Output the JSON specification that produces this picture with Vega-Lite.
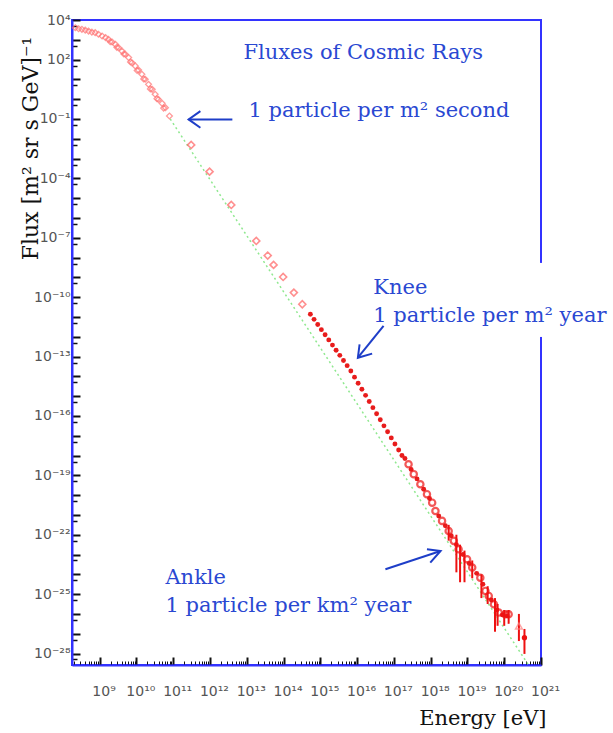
{
  "$schema": "https://vega.github.io/schema/vega-lite/v6.json",
  "width": 469,
  "height": 645,
  "autosize": {"type": "none"},
  "padding": {"left": 72, "top": 20, "right": 72, "bottom": 68},
  "background": "white",
  "config": {"view": {"stroke": "#3333ff", "strokeWidth": 2}},
  "datasets": {
    "pts": [
      {"E": 2.19e8, "F": 4.07e3, "set": "low"},
      {"E": 2.69e8, "F": 3.63e3, "set": "low"},
      {"E": 3.31e8, "F": 3.39e3, "set": "low"},
      {"E": 4.07e8, "F": 3.09e3, "set": "low"},
      {"E": 5.01e8, "F": 2.75e3, "set": "low"},
      {"E": 6.17e8, "F": 2.45e3, "set": "low"},
      {"E": 7.59e8, "F": 2.29e3, "set": "low"},
      {"E": 9.33e8, "F": 1.91e3, "set": "low"},
      {"E": 1.17e9, "F": 1.55e3, "set": "low"},
      {"E": 1.45e9, "F": 1.29e3, "set": "low"},
      {"E": 1.74e9, "F": 1.07e3, "set": "low"},
      {"E": 2.19e9, "F": 7.76e2, "set": "low"},
      {"E": 2.69e9, "F": 5.89e2, "set": "low"},
      {"E": 3.31e9, "F": 3.98e2, "set": "low"},
      {"E": 4.07e9, "F": 2.69e2, "set": "low"},
      {"E": 5.01e9, "F": 1.86e2, "set": "low"},
      {"E": 6.17e9, "F": 1.26e2, "set": "low"},
      {"E": 7.59e9, "F": 6.92e1, "set": "low"},
      {"E": 9.33e9, "F": 4.79e1, "set": "low"},
      {"E": 1.15e10, "F": 2.95e1, "set": "low"},
      {"E": 1.41e10, "F": 1.82e1, "set": "low"},
      {"E": 1.74e10, "F": 1.02e1, "set": "low"},
      {"E": 2.14e10, "F": 5.62, "set": "low"},
      {"E": 2.69e10, "F": 3.16, "set": "low"},
      {"E": 3.24e10, "F": 1.78, "set": "low"},
      {"E": 3.98e10, "F": 0.977, "set": "low"},
      {"E": 5.01e10, "F": 0.617, "set": "low"},
      {"E": 6.17e10, "F": 0.372, "set": "low"},
      {"E": 7.94e10, "F": 0.141, "set": "low"},
      {"E": 1.95e9, "F": 7.94e2, "set": "low"},
      {"E": 2.95e9, "F": 4.17e2, "set": "low"},
      {"E": 4.57e9, "F": 1.91e2, "set": "low"},
      {"E": 6.92e9, "F": 7.59e1, "set": "low"},
      {"E": 1.05e10, "F": 2.82e1, "set": "low"},
      {"E": 1.58e10, "F": 1.05e1, "set": "low"},
      {"E": 2.40e10, "F": 3.31, "set": "low"},
      {"E": 3.63e10, "F": 1.05, "set": "low"},
      {"E": 5.50e10, "F": 0.355, "set": "low"},
      {"E": 3.09e11, "F": 4.90e-3, "set": "mid"},
      {"E": 9.77e11, "F": 2.19e-4, "set": "mid"},
      {"E": 3.80e12, "F": 4.57e-6, "set": "mid"},
      {"E": 1.82e13, "F": 6.92e-8, "set": "mid"},
      {"E": 3.72e13, "F": 1.26e-8, "set": "mid"},
      {"E": 5.37e13, "F": 4.27e-9, "set": "mid"},
      {"E": 9.77e13, "F": 1.05e-9, "set": "mid"},
      {"E": 1.91e14, "F": 1.70e-10, "set": "mid"},
      {"E": 3.24e14, "F": 4.37e-11, "set": "mid"},
      {"E": 5.37e14, "F": 1.38e-11, "set": "knee"},
      {"E": 6.76e14, "F": 7.59e-12, "set": "knee"},
      {"E": 8.51e14, "F": 4.17e-12, "set": "knee"},
      {"E": 1.07e15, "F": 2.29e-12, "set": "knee"},
      {"E": 1.35e15, "F": 1.26e-12, "set": "knee"},
      {"E": 1.70e15, "F": 6.92e-13, "set": "knee"},
      {"E": 2.14e15, "F": 3.80e-13, "set": "knee"},
      {"E": 2.69e15, "F": 2.09e-13, "set": "knee"},
      {"E": 3.39e15, "F": 1.15e-13, "set": "knee"},
      {"E": 4.27e15, "F": 6.31e-14, "set": "knee"},
      {"E": 5.37e15, "F": 3.47e-14, "set": "knee"},
      {"E": 6.76e15, "F": 1.86e-14, "set": "knee"},
      {"E": 8.51e15, "F": 9.12e-15, "set": "knee"},
      {"E": 1.07e16, "F": 4.47e-15, "set": "knee"},
      {"E": 1.35e16, "F": 2.24e-15, "set": "knee"},
      {"E": 1.70e16, "F": 1.10e-15, "set": "knee"},
      {"E": 2.14e16, "F": 5.37e-16, "set": "knee"},
      {"E": 2.69e16, "F": 2.63e-16, "set": "knee"},
      {"E": 3.39e16, "F": 1.29e-16, "set": "knee"},
      {"E": 4.27e16, "F": 6.46e-17, "set": "knee"},
      {"E": 5.37e16, "F": 3.16e-17, "set": "knee"},
      {"E": 6.76e16, "F": 1.58e-17, "set": "knee"},
      {"E": 8.51e16, "F": 7.76e-18, "set": "knee"},
      {"E": 1.07e17, "F": 3.80e-18, "set": "knee"},
      {"E": 1.35e17, "F": 1.91e-18, "set": "knee"},
      {"E": 1.66e17, "F": 1.00e-18, "set": "knee"},
      {"E": 2.00e17, "F": 7.08e-19, "set": "high2"},
      {"E": 2.95e17, "F": 2.00e-19, "set": "high2"},
      {"E": 4.27e17, "F": 6.61e-20, "set": "high2"},
      {"E": 6.46e17, "F": 2.00e-20, "set": "high2"},
      {"E": 9.33e17, "F": 6.76e-21, "set": "high2"},
      {"E": 1.66e18, "F": 8.91e-22, "set": "high2"},
      {"E": 2.51e18, "F": 2.82e-22, "set": "high2"},
      {"E": 3.63e18, "F": 8.91e-23, "set": "high2"},
      {"E": 5.01e18, "F": 3.16e-23, "set": "high2"},
      {"E": 7.59e18, "F": 1.00e-23, "set": "high2"},
      {"E": 1.12e19, "F": 3.55e-24, "set": "high2"},
      {"E": 1.78e19, "F": 1.12e-24, "set": "high2"},
      {"E": 2.63e19, "F": 3.16e-25, "set": "high2"},
      {"E": 4.47e19, "F": 5.01e-26, "set": "high2"},
      {"E": 6.31e19, "F": 1.58e-26, "set": "high2"},
      {"E": 8.91e19, "F": 8.91e-27, "set": "high2"},
      {"E": 1.20e20, "F": 7.94e-27, "set": "high2"},
      {"E": 2.51e17, "F": 3.63e-19, "set": "high"},
      {"E": 3.47e17, "F": 1.15e-19, "set": "high"},
      {"E": 5.25e17, "F": 3.55e-20, "set": "high"},
      {"E": 7.94e17, "F": 1.12e-20, "set": "high"},
      {"E": 1.10e18, "F": 4.17e-21, "set": "high"},
      {"E": 1.35e18, "F": 1.58e-21, "set": "high"},
      {"E": 2.04e18, "F": 5.01e-22, "set": "high"},
      {"E": 3.09e18, "F": 1.55e-22, "set": "high"},
      {"E": 4.27e18, "F": 4.90e-23, "set": "high"},
      {"E": 5.75e18, "F": 1.86e-23, "set": "high"},
      {"E": 9.77e18, "F": 5.75e-24, "set": "high"},
      {"E": 1.35e19, "F": 2.19e-24, "set": "high"},
      {"E": 2.24e19, "F": 6.76e-25, "set": "high"},
      {"E": 3.09e19, "F": 1.45e-25, "set": "high"},
      {"E": 3.80e19, "F": 8.13e-26, "set": "high"},
      {"E": 5.25e19, "F": 3.09e-26, "set": "high"},
      {"E": 7.08e19, "F": 1.17e-26, "set": "high"},
      {"E": 1.07e20, "F": 9.55e-27, "set": "high"},
      {"E": 1.32e20, "F": 9.55e-27, "set": "high"},
      {"E": 2.51e20, "F": 2.45e-27, "set": "tri"},
      {"E": 3.55e20, "F": 6.31e-28, "set": "last"}
    ],
    "err": [
      {"E": 3.09e18, "F": 5.01e-23, "F2": 3.16e-22},
      {"E": 5.01e18, "F": 1.26e-24, "F2": 1.00e-22},
      {"E": 6.31e18, "F": 3.98e-25, "F2": 3.16e-23},
      {"E": 8.32e18, "F": 3.98e-25, "F2": 1.58e-23},
      {"E": 1.35e19, "F": 6.31e-25, "F2": 5.01e-24},
      {"E": 2.40e19, "F": 6.31e-26, "F2": 1.00e-24},
      {"E": 3.55e19, "F": 3.16e-26, "F2": 2.51e-25},
      {"E": 5.62e19, "F": 1.26e-27, "F2": 6.31e-26},
      {"E": 6.61e19, "F": 2.51e-27, "F2": 3.16e-26},
      {"E": 1.00e20, "F": 2.51e-27, "F2": 1.58e-26},
      {"E": 1.32e20, "F": 3.16e-27, "F2": 1.58e-26},
      {"E": 2.51e20, "F": 4.27e-28, "F2": 1.00e-26},
      {"E": 3.55e20, "F": 9.55e-29, "F2": 1.74e-27}
    ],
    "green": [
      {"E": 8.32e10, "F": 0.1},
      {"E": 4.57e20, "F": 2.63e-29}
    ],
    "mask": [
      {"E": 7.94e20, "E2": 1.41e21, "F": 5.37e-9, "F2": 9.77e-13}
    ],
    "arrows": [
      {"part": "a1s", "ord": 1, "E": 4.07e12, "F": 0.0955},
      {"part": "a1s", "ord": 2, "E": 2.63e11, "F": 0.0955},
      {"part": "a1h", "ord": 1, "E": 5.50e11, "F": 0.251},
      {"part": "a1h", "ord": 2, "E": 2.63e11, "F": 0.0955},
      {"part": "a1h", "ord": 3, "E": 5.50e11, "F": 0.0363},
      {"part": "a2s", "ord": 1, "E": 5.25e16, "F": 3.55e-12},
      {"part": "a2s", "ord": 2, "E": 1.05e16, "F": 8.71e-14},
      {"part": "a2h", "ord": 1, "E": 1.17e16, "F": 4.17e-13},
      {"part": "a2h", "ord": 2, "E": 1.05e16, "F": 8.71e-14},
      {"part": "a2h", "ord": 3, "E": 2.57e16, "F": 1.41e-13},
      {"part": "a3s", "ord": 1, "E": 5.89e16, "F": 1.82e-24},
      {"part": "a3s", "ord": 2, "E": 1.86e18, "F": 1.51e-23},
      {"part": "a3h", "ord": 1, "E": 7.94e17, "F": 1.86e-23},
      {"part": "a3h", "ord": 2, "E": 1.86e18, "F": 1.51e-23},
      {"part": "a3h", "ord": 3, "E": 9.77e17, "F": 3.89e-24}
    ],
    "notes": [
      {"text": "Fluxes of Cosmic Rays", "E": 8.13e12, "F": 214},
      {"text": "1 particle per m² second", "E": 1.12e13, "F": 0.251},
      {"text": "Knee", "E": 2.75e16, "F": 2.88e-10},
      {"text": "1 particle per m² year", "E": 2.75e16, "F": 1.12e-11},
      {"text": "Ankle", "E": 6.17e10, "F": 6.61e-25},
      {"text": "1 particle per km² year", "E": 6.17e10, "F": 2.51e-26}
    ]
  },
  "layer": [
    {
      "data": {"name": "green"},
      "mark": {"type": "line", "color": "#8fe88f", "strokeDash": [2, 3], "strokeWidth": 1.5, "clip": true},
      "encoding": {
        "x": {
          "field": "E", "type": "quantitative",
          "scale": {"type": "log", "domain": [1.778e8, 1e21], "nice": false},
          "axis": {
            "title": "Energy [eV]",
            "titleFont": "DejaVu Serif", "titleFontSize": 21, "titleFontWeight": "normal", "titleColor": "#111",
            "titleAlign": "right", "titleX": 474, "titleY": 53, "titleBaseline": "middle",
            "grid": false, "domain": true, "domainColor": "#3333ff", "domainWidth": 2,
            "values": [2e8,3e8,4e8,5e8,6e8,7e8,8e8,9e8,
              1e9,2e9,3e9,4e9,5e9,6e9,7e9,8e9,9e9,
              1e10,2e10,3e10,4e10,5e10,6e10,7e10,8e10,9e10,
              1e11,2e11,3e11,4e11,5e11,6e11,7e11,8e11,9e11,
              1e12,2e12,3e12,4e12,5e12,6e12,7e12,8e12,9e12,
              1e13,2e13,3e13,4e13,5e13,6e13,7e13,8e13,9e13,
              1e14,2e14,3e14,4e14,5e14,6e14,7e14,8e14,9e14,
              1e15,2e15,3e15,4e15,5e15,6e15,7e15,8e15,9e15,
              1e16,2e16,3e16,4e16,5e16,6e16,7e16,8e16,9e16,
              1e17,2e17,3e17,4e17,5e17,6e17,7e17,8e17,9e17,
              1e18,2e18,3e18,4e18,5e18,6e18,7e18,8e18,9e18,
              1e19,2e19,3e19,4e19,5e19,6e19,7e19,8e19,9e19,
              1e20,2e20,3e20,4e20,5e20,6e20,7e20,8e20,9e20,
              1e21],
            "labelExpr": "abs(log(datum.value)/LN10 - round(log(datum.value)/LN10)) > 0.01 ? '' : '10' + replace(replace(replace(replace(replace(replace(replace(replace(replace(replace(replace('' + round(log(datum.value)/LN10), /-/g, '⁻'), /0/g, '⁰'), /1/g, '¹'), /2/g, '²'), /3/g, '³'), /4/g, '⁴'), /5/g, '⁵'), /6/g, '⁶'), /7/g, '⁷'), /8/g, '⁸'), /9/g, '⁹')",
            "labelFont": "DejaVu Sans", "labelFontSize": 14, "labelColor": "#555555",
            "labelOverlap": false, "labelFlush": false, "labelBound": false,
            "labelPadding": 27, "labelOffset": 4,
            "tickColor": "#111111",
            "tickSize": {"condition": {"test": "abs(log(datum.value)/LN10 - round(log(datum.value)/LN10)) < 0.01", "value": -8}, "value": -4},
            "tickWidth": {"condition": {"test": "abs(log(datum.value)/LN10 - round(log(datum.value)/LN10)) < 0.01", "value": 2}, "value": 1}
          }
        },
        "y": {
          "field": "F", "type": "quantitative",
          "scale": {"type": "log", "domain": [2.63e-29, 1e4], "nice": false},
          "axis": {
            "title": "Flux  [m² sr s GeV]⁻¹",
            "titleFont": "DejaVu Serif", "titleFontSize": 22, "titleFontWeight": "normal", "titleColor": "#111",
            "titleAlign": "center", "titleX": -42, "titleY": 128, "titleBaseline": "middle", "titleAngle": -90,
            "grid": false, "domain": true, "domainColor": "#3333ff", "domainWidth": 2,
            "values": [1e4,5e3,1e3,5e2,1e2,5e1,1e1,5,1,0.5,0.1,5e-2,1e-2,5e-3,1e-3,5e-4,1e-4,5e-5,1e-5,5e-6,1e-6,5e-7,1e-7,5e-8,1e-8,5e-9,1e-9,5e-10,1e-10,5e-11,1e-11,5e-12,1e-12,5e-13,1e-13,5e-14,1e-14,5e-15,1e-15,5e-16,1e-16,5e-17,1e-17,5e-18,1e-18,5e-19,1e-19,5e-20,1e-20,5e-21,1e-21,5e-22,1e-22,5e-23,1e-23,5e-24,1e-24,5e-25,1e-25,5e-26,1e-26,5e-27,1e-27,5e-28,1e-28,5e-29],
            "labelExpr": "abs(log(datum.value)/LN10 - round(log(datum.value)/LN10)) > 0.01 || !(round(log(datum.value)/LN10) == 4 || (2 - round(log(datum.value)/LN10)) % 3 == 0) ? '' : '10' + replace(replace(replace(replace(replace(replace(replace(replace(replace(replace(replace('' + round(log(datum.value)/LN10), /-/g, '⁻'), /0/g, '⁰'), /1/g, '¹'), /2/g, '²'), /3/g, '³'), /4/g, '⁴'), /5/g, '⁵'), /6/g, '⁶'), /7/g, '⁷'), /8/g, '⁸'), /9/g, '⁹')",
            "labelFont": "DejaVu Sans", "labelFontSize": 14, "labelColor": "#555555",
            "labelOverlap": false, "labelFlush": false, "labelBound": false,
            "labelPadding": 10,
            "tickColor": "#111111",
            "tickSize": {"condition": {"test": "abs(log(datum.value)/LN10 - round(log(datum.value)/LN10)) < 0.01", "value": -8}, "value": -5},
            "tickWidth": {"condition": {"test": "abs(log(datum.value)/LN10 - round(log(datum.value)/LN10)) < 0.01", "value": 2}, "value": 1.5}
          }
        }
      }
    },
    {
      "data": {"name": "pts"},
      "transform": [{"filter": "datum.set == 'low'"}],
      "mark": {"type": "point", "shape": "diamond", "filled": false, "color": "#ff7070", "size": 34, "strokeWidth": 1.3},
      "encoding": {"x": {"field": "E", "type": "quantitative"}, "y": {"field": "F", "type": "quantitative"}}
    },
    {
      "data": {"name": "pts"},
      "transform": [{"filter": "datum.set == 'mid'"}],
      "mark": {"type": "point", "shape": "diamond", "filled": false, "color": "#ff6060", "size": 50, "strokeWidth": 1.6},
      "encoding": {"x": {"field": "E", "type": "quantitative"}, "y": {"field": "F", "type": "quantitative"}}
    },
    {
      "data": {"name": "pts"},
      "transform": [{"filter": "datum.set == 'knee' || datum.set == 'high2'"}],
      "mark": {"type": "point", "shape": "circle", "filled": true, "color": "#e81c1c", "size": 24, "opacity": 1},
      "encoding": {"x": {"field": "E", "type": "quantitative"}, "y": {"field": "F", "type": "quantitative"}}
    },
    {
      "data": {"name": "err"},
      "mark": {"type": "rule", "color": "#ee1111", "strokeWidth": 2},
      "encoding": {"x": {"field": "E", "type": "quantitative"}, "y": {"field": "F", "type": "quantitative"}, "y2": {"field": "F2"}}
    },
    {
      "data": {"name": "pts"},
      "transform": [{"filter": "datum.set == 'high'"}],
      "mark": {"type": "point", "shape": "circle", "filled": false, "color": "#ee1111", "size": 40, "strokeWidth": 2.2},
      "encoding": {"x": {"field": "E", "type": "quantitative"}, "y": {"field": "F", "type": "quantitative"}}
    },
    {
      "data": {"name": "pts"},
      "transform": [{"filter": "datum.set == 'tri'"}],
      "mark": {"type": "point", "shape": "triangle-up", "filled": false, "color": "#ff8080", "size": 45, "strokeWidth": 1.5},
      "encoding": {"x": {"field": "E", "type": "quantitative"}, "y": {"field": "F", "type": "quantitative"}}
    },
    {
      "data": {"name": "pts"},
      "transform": [{"filter": "datum.set == 'last'"}],
      "mark": {"type": "point", "shape": "circle", "filled": true, "color": "#ee1111", "size": 28, "opacity": 1},
      "encoding": {"x": {"field": "E", "type": "quantitative"}, "y": {"field": "F", "type": "quantitative"}}
    },
    {
      "data": {"name": "mask"},
      "mark": {"type": "rect", "color": "white", "opacity": 1},
      "encoding": {"x": {"field": "E", "type": "quantitative"}, "x2": {"field": "E2"}, "y": {"field": "F", "type": "quantitative"}, "y2": {"field": "F2"}}
    },
    {
      "data": {"name": "arrows"},
      "mark": {"type": "line", "color": "#1e3ec8", "strokeWidth": 2},
      "encoding": {
        "x": {"field": "E", "type": "quantitative"},
        "y": {"field": "F", "type": "quantitative"},
        "detail": {"field": "part", "type": "nominal"},
        "order": {"field": "ord", "type": "quantitative"}
      }
    },
    {
      "data": {"name": "notes"},
      "mark": {"type": "text", "align": "left", "baseline": "middle", "font": "DejaVu Serif", "fontSize": 21, "color": "#2a48d2"},
      "encoding": {
        "x": {"field": "E", "type": "quantitative"},
        "y": {"field": "F", "type": "quantitative"},
        "text": {"field": "text", "type": "nominal"}
      }
    }
  ]
}
